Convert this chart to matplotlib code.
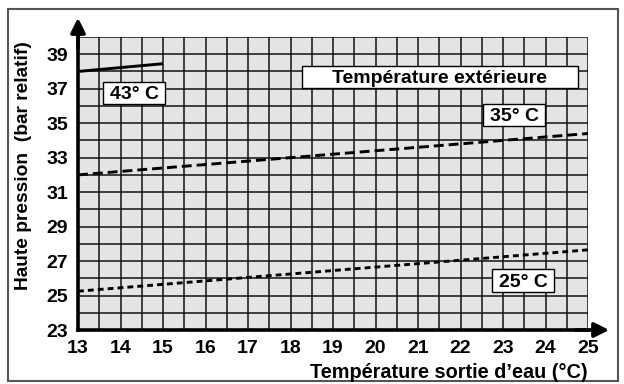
import matplotlib.pyplot as plt
from matplotlib.patches import Rectangle

plt.rcParams['font.family'] = ['Liberation Sans', 'DejaVu Sans']
plt.rcParams['font.weight'] = 'bold'

# data: water outlet temperature vs high pressure
t_43 = [13, 15]
p_43 = [38.0, 38.45]
t_35 = [13, 25]
p_35 = [32.0, 34.4]
t_25 = [13, 25]
p_25 = [25.25, 27.65]

x_ticks = list(range(13, 26))
y_ticks = list(range(23, 40, 2))

# label boxes: (text, x0, x1, y0, y1, fontsize)
boxes = [
    ('43° C', 13.59, 15.05, 36.11, 37.39, 14),
    ('Température extérieure', 18.27, 24.76, 37.04, 38.31, 14),
    ('35° C', 22.53, 23.99, 34.83, 36.11, 14),
    ('25° C', 22.74, 24.20, 25.20, 26.54, 14),
]

fig = plt.figure(figsize=(6.24, 3.84), dpi=100)
ax = fig.add_axes([78 / 624, 54 / 384, 510 / 624, 293 / 384])
ax.set_facecolor('#e4e4e4')

ax.plot(t_43, p_43, color='black', lw=2.1, solid_capstyle='butt')
ax.plot(t_35, p_35, color='black', lw=2.1, dashes=(3.4, 1.7))
ax.plot(t_25, p_25, color='black', lw=2.1, dashes=(2.0, 1.4))

ax.set_xlim(13, 25)
ax.set_ylim(23, 40)
ax.set_xticks(x_ticks)
ax.set_xticks([x + 0.5 for x in x_ticks[:-1]], minor=True)
ax.set_yticks(y_ticks)
ax.set_yticks(range(24, 41, 2), minor=True)
ax.grid(True, which='both', color='#111111', lw=1.1)
ax.set_axisbelow(True)
ax.tick_params(which='both', length=0, labelsize=14)
ax.tick_params(axis='x', pad=7)
ax.tick_params(axis='y', pad=7)

for s in ['top', 'right']:
    ax.spines[s].set_visible(False)
for s in ['left', 'bottom']:
    ax.spines[s].set_linewidth(2.6)

# axis arrows
ax.annotate('', xy=(0, 1.075), xytext=(0, 0.95), xycoords='axes fraction',
            arrowprops=dict(arrowstyle='-|>', lw=2.6, color='black', mutation_scale=22),
            annotation_clip=False)
ax.annotate('', xy=(1.047, 0), xytext=(0.97, 0), xycoords='axes fraction',
            arrowprops=dict(arrowstyle='-|>', lw=2.6, color='black', mutation_scale=22),
            annotation_clip=False)

for txt, x0, x1, y0, y1, fs in boxes:
    ax.add_patch(Rectangle((x0, y0), x1 - x0, y1 - y0, fc='white', ec='black', lw=1, zorder=4))
    ax.text((x0 + x1) / 2, y0 + 0.3, txt, fontsize=fs, ha='center', va='baseline', zorder=5)

fig.text(24 / 624, 1 - 166 / 384, 'Haute pression  (bar relatif)', rotation=90,
         fontsize=13.8, ha='center', va='center')
fig.text(588 / 624, 1 - 373 / 384, 'Température sortie d\u2019eau (°C)',
         fontsize=14.3, ha='right', va='center')

fig.add_artist(Rectangle((8 / 624, 3 / 384), 610 / 624, 372 / 384, transform=fig.transFigure,
                         fill=False, ec='#555555', lw=1.5))

fig.savefig('out.png', dpi=100)
